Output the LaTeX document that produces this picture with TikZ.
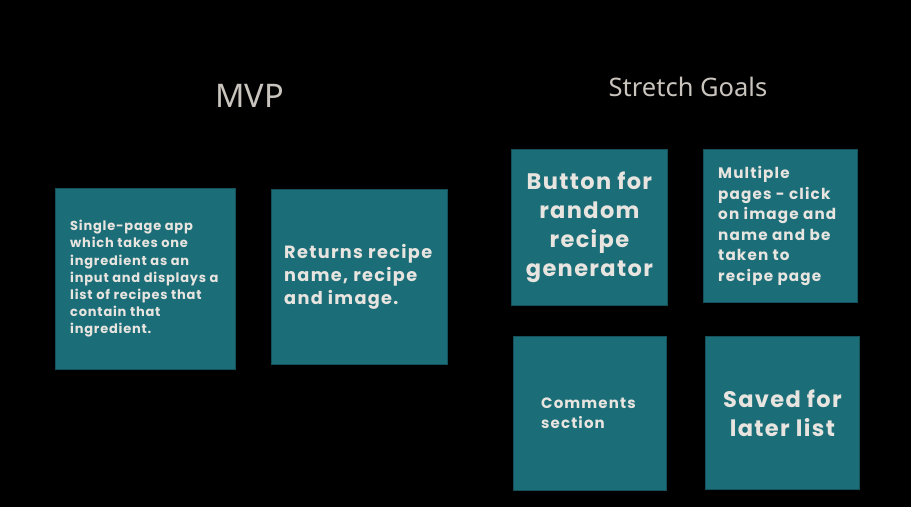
\documentclass[tikz,border=0pt]{standalone}
\usepackage{fontspec}
\newfontfamily\cardfont{Poppins}[LetterSpace=6]
\newfontfamily\cardfontwide{Poppins}[LetterSpace=7.5]
\newfontfamily\headfont{Noto Sans}
\definecolor{cardfill}{HTML}{1B6E78}
\definecolor{cardedge}{HTML}{14515A}
\definecolor{cardtext}{HTML}{E8E4E0}
\definecolor{headtext}{HTML}{C9C4BE}
\begin{document}
\begin{tikzpicture}[x=1pt,y=-1pt,
  card/.style={draw=cardedge,line width=0.8pt,fill=cardfill,inner sep=0pt,anchor=north west},
  cardtxt/.style={text=cardtext,inner sep=0pt},
  head/.style={text=headtext,inner sep=0pt}]
\fill[black] (0,0) rectangle (911,507);
\useasboundingbox (0,0) rectangle (911,507);

% section headings
\node[head,font=\headfont\fontsize{32.5}{32.5}\selectfont] (mvp) at (249.5,96) {MVP};
\node[head,font=\headfont\fontsize{25.5}{25.5}\selectfont] (stretch) at (688,87) {Stretch Goals};

% MVP cards
\node[card,minimum width=180,minimum height=181] (c1) at (55,188) {};
\node[cardtxt,anchor=west,align=left,font=\cardfont\bfseries\fontsize{13}{17.2}\selectfont] (t1) at ([xshift=15]c1.west)
  {Single-page app\\which takes one\\ingredient as an\\input and displays a\\list of recipes that\\contain that\\ingredient.};

\node[card,minimum width=176,minimum height=175] (c2) at (271,189) {};
\node[cardtxt,anchor=west,align=left,font=\cardfontwide\bfseries\fontsize{17.7}{23}\selectfont] (t2) at ([xshift=13]c2.west)
  {Returns recipe\\name, recipe\\and image.};

% stretch goal cards
\node[card,minimum width=156,minimum height=156] (c3) at (511,149) {};
\node[cardtxt,align=center,font=\cardfont\bfseries\fontsize{22.5}{29}\selectfont] (t3) at (c3.center)
  {Button for\\random\\recipe\\generator};

\node[card,minimum width=154,minimum height=153] (c4) at (703,149) {};
\node[cardtxt,anchor=west,align=left,font=\cardfontwide\bfseries\fontsize{15.2}{20.5}\selectfont] (t4) at ([xshift=15]c4.west)
  {Multiple\\pages - click\\on image and\\name and be\\taken to\\recipe page};

\node[card,minimum width=153,minimum height=154] (c5) at (513,336) {};
\node[cardtxt,anchor=west,align=left,font=\cardfontwide\bfseries\fontsize{15}{20}\selectfont] (t5) at ([xshift=28]c5.west)
  {Comments\\section};

\node[card,minimum width=154,minimum height=153] (c6) at (705,336) {};
\node[cardtxt,align=center,font=\cardfont\bfseries\fontsize{22.5}{29}\selectfont] (t6) at (c6.center)
  {Saved for\\later list};
\end{tikzpicture}
\end{document}
